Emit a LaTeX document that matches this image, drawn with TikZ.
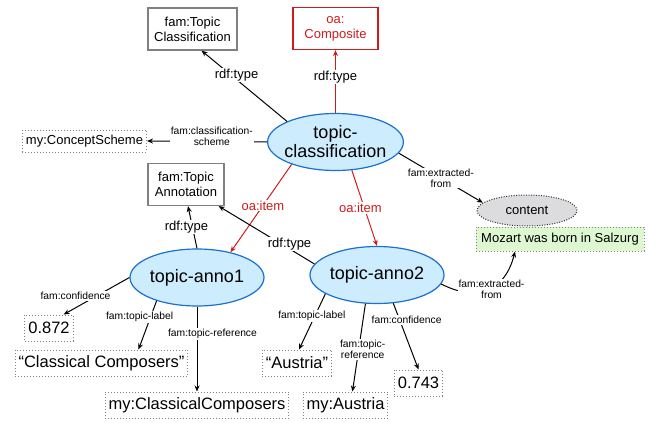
\documentclass[tikz,border=0pt]{standalone}
\usepackage{fontspec}
\setmainfont{Liberation Sans}
\usetikzlibrary{positioning,arrows.meta,shapes.geometric}
\definecolor{annoblue}{RGB}{26,111,207}
\definecolor{annofill}{RGB}{205,236,253}
\definecolor{oared}{RGB}{206,28,28}
\definecolor{boxgrey}{RGB}{128,128,128}
\definecolor{contentgrey}{RGB}{220,220,222}
\definecolor{textgreen}{RGB}{221,247,208}

\begin{document}
\begin{tikzpicture}[
  x=1pt, y=-1pt, line width=1pt,
  font=\fontsize{13}{15}\selectfont,
  typebox/.style={draw=boxgrey, line width=1.2pt, align=center, minimum height=42pt, inner sep=2pt},
  anno/.style={ellipse, draw=annoblue, fill=annofill, line width=1.2pt, align=center, font=\fontsize{18}{19}\selectfont, minimum width=134pt, minimum height=57pt, inner xsep=-3pt, inner ysep=0pt},
  lit/.style={draw=boxgrey, dash pattern=on 1pt off 2pt, inner xsep=3.5pt, minimum height=26pt, font=\fontsize{16.5}{18}\selectfont},
  lbl/.style={fill=white, inner sep=1pt, align=center, font=\fontsize{10.3}{11}\selectfont},
  rel/.style={fill=white, inner sep=1pt},
  >={Stealth[length=6pt,width=5pt]}
]
\useasboundingbox (0,0) rectangle (649,423);

\node[typebox, minimum width=89pt] (tcls) at (192.5,29) {fam:Topic\\Classification};
\node[typebox, draw=oared, text=oared, minimum width=85pt] (comp) at (335.5,28.5) {oa:\\Composite};
\node[typebox, minimum width=76pt] (ta) at (186,184.5) {fam:Topic\\Annotation};
\node[anno] (tc) at (335.5,142) {topic-\\classification};
\node[anno] (a1) at (197,277.5) {topic-anno1};
\node[anno] (a2) at (377,275) {topic-anno2};
\node[lit, font=\fontsize{13}{15}\selectfont, minimum height=22pt] (cs) at (84.5,141) {my:ConceptScheme};
\node[lit] (v1) at (49,328) {0.872};
\node[lit] (cc) at (101.5,363) {“Classical Composers”};
\node[lit] (mcc) at (197,405) {my:ClassicalComposers};
\node[lit] (aus) at (297,363) {“Austria”};
\node[lit] (ma) at (345.5,405) {my:Austria};
\node[lit] (v2) at (418.5,383) {0.743};
\node[lit, fill=textgreen, font=\fontsize{13}{15}\selectfont, minimum width=168pt, minimum height=24pt] (moz) at (560,239) {Mozart was born in Salzurg};
\node[ellipse, draw=black!80, dash pattern=on 1pt off 1.5pt, fill=contentgrey, minimum width=100pt, minimum height=31pt, inner sep=0pt] (content) at (527,210.5) {content};

\draw[->] (tc.north west) -- node[rel, pos=.66, xshift=6pt] {rdf:type} ([xshift=9pt]tcls.south);
\draw[->, oared] (tc.north) -- node[rel, text=black, pos=.57] {rdf:type} (comp.south);
\draw[->] (tc.west) -- node[lbl, pos=.46, yshift=5.5pt] {fam:classification-\\scheme} (cs.east);
\draw[->] (tc.-10) -- node[lbl, pos=.5] {fam:extracted-\\from} (content.170);
\draw[->, oared] (tc.207) -- node[rel, text=oared, pos=.47] {oa:item} (a1.37);
\draw[->, oared] (tc.-60) -- node[rel, text=oared, pos=.5, xshift=-4pt] {oa:item} (a2.north);
\draw[->] (a1.north) -- node[rel, pos=.5, xshift=-6pt] {rdf:type} ([xshift=2pt]ta.south);
\draw[->] (a2.170) -- node[rel, pos=.26, yshift=5pt] {rdf:type} ([xshift=-6pt]ta.south east);
\draw[->] (a1.west) -- node[lbl, pos=.5, xshift=-21pt] {fam:confidence} ([xshift=-10pt]v1.north east);
\draw[->] (a1.210) -- node[lbl, pos=.33, xshift=-11pt] {fam:topic-label} ([xshift=37pt]cc.north);
\draw[->] (a1.south) -- node[lbl, pos=.32, xshift=15.5pt] {fam:topic-reference} (mcc.north);
\draw[->] (a2.200) -- node[lbl, pos=.4, xshift=-3pt] {fam:topic-label} ([xshift=2pt]aus.north);
\draw[->] (a2.248) -- node[lbl, pos=.52, xshift=4pt] {fam:topic-\\reference} ([xshift=7pt]ma.north);
\draw[->] (a2.-60) -- node[lbl, pos=.25, xshift=7pt] {fam:confidence} (v2.north);
\draw[->] (a2.-8) .. controls +(35,18) and +(-10,40) .. node[lbl, pos=.5, xshift=4pt] {fam:extracted-\\from} ([xshift=-45pt]moz.south);
\end{tikzpicture}
\end{document}
